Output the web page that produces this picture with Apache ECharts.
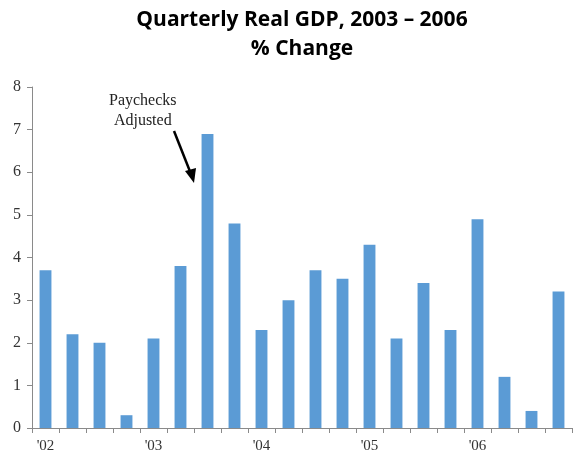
<!DOCTYPE html>
<html><head><meta charset="utf-8">
<script src="https://cdn.jsdelivr.net/npm/echarts@6/dist/echarts.min.js"></script>
<style>html,body{margin:0;padding:0;background:#fff}#c{width:574px;height:452px}</style>
</head><body><div id="c"></div>
<script>
const categories = ['Q1 02','Q2 02','Q3 02','Q4 02','Q1 03','Q2 03','Q3 03','Q4 03','Q1 04','Q2 04','Q3 04','Q4 04','Q1 05','Q2 05','Q3 05','Q4 05','Q1 06','Q2 06','Q3 06','Q4 06'];
const tickLabels = ["'02","","","","'03","","","","'04","","","","'05","","","","'06","","",""];
const gdpChange = [3.7, 2.2, 2.0, 0.3, 2.1, 3.8, 6.9, 4.8, 2.3, 3.0, 3.7, 3.5, 4.3, 2.1, 3.4, 2.3, 4.9, 1.2, 0.4, 3.2];
const yTicks = [0,1,2,3,4,5,6,7,8];

const chart = echarts.init(document.getElementById('c'));
const serif = 'Liberation Serif';
chart.setOption({
  animation: false,
  title: {
    text: 'Quarterly Real GDP, 2003 – 2006\n% Change',
    left: 297, top: 1, textAlign: 'center',
    textStyle: {fontFamily: 'Open Sans', fontWeight: 'bold', fontSize: 21, lineHeight: 29, color: '#000'}
  },
  grid: {left: 32, top: 87, width: 540, height: 341, outerBoundsMode: 'none', containLabel: false},
  xAxis: {
    type: 'category', data: categories,
    axisLine: {lineStyle: {color: '#8a8a8a', width: 1}},
    axisTick: {show: true, alignWithLabel: false, length: 5, lineStyle: {color: '#8a8a8a'}},
    axisLabel: {interval: 0, margin: 11, fontFamily: serif, fontSize: 15, color: '#333',
      formatter: (v, i) => tickLabels[i]}
  },
  yAxis: {
    type: 'value', min: 0, max: 8, interval: 1,
    axisLine: {show: true, lineStyle: {color: '#8a8a8a'}},
    axisTick: {show: true, length: 5, lineStyle: {color: '#8a8a8a'}},
    splitLine: {show: false},
    axisLabel: {margin: 11, fontFamily: serif, fontSize: 16, color: '#333',
      formatter: v => yTicks.includes(v) ? String(v) : ''}
  },
  series: [{
    type: 'bar', data: gdpChange, barWidth: '44%',
    itemStyle: {color: '#5b9bd5'}
  }],
  graphic: [
    {type: 'text', left: 109, top: 91, style: {text: 'Paychecks\nAdjusted', fontFamily: serif, fontSize: 16, lineHeight: 20, textAlign: 'center', fill: '#222'}},
    {type: 'line', shape: {x1: 174, y1: 131, x2: 191, y2: 174}, style: {stroke: '#000', lineWidth: 2.5}},
    {type: 'polygon', shape: {points: [[194, 183], [185, 171], [196, 168]]}, style: {fill: '#000'}}
  ]
});
</script></body></html>
